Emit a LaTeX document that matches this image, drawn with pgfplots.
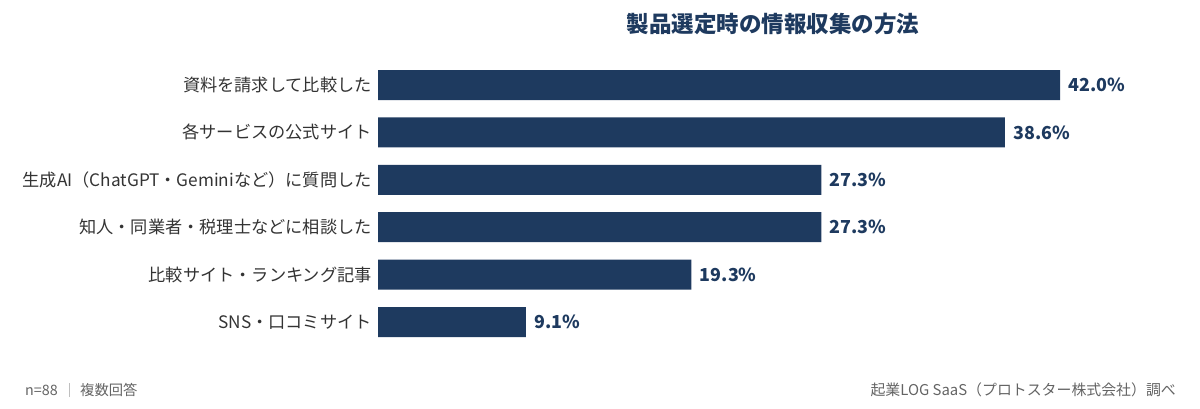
\documentclass[border=0pt]{standalone}
\usepackage{pgfplots}
\pgfplotsset{compat=1.18}
\usepackage{fontspec}
\setmainfont{Noto Sans CJK JP}
\definecolor{navy}{RGB}{30,58,95}
\definecolor{lab}{RGB}{51,51,51}
\definecolor{foot}{RGB}{100,100,100}
\begin{document}
\begin{tikzpicture}
\path[use as bounding box] (0,0) rectangle (1200pt,408pt);
\begin{axis}[
  at={(378pt,62.3pt)}, anchor=south west,
  scale only axis, width=682pt, height=284.4pt,
  xbar, bar width=30pt, bar shift=0pt,
  xmin=0, xmax=42,
  ymin=-0.5, ymax=5.5, y dir=reverse,
  axis x line=none,
  axis y line*=left,
  y axis line style={draw=none},
  ytick={0,1,2,3,4,5},
  yticklabels={資料を請求して比較した,各サービスの公式サイト,生成AI（ChatGPT・Geminiなど）に質問した,知人・同業者・税理士などに相談した,比較サイト・ランキング記事,SNS・口コミサイト},
  yticklabel style={font=\fontsize{17.2pt}{19pt}\selectfont, text=lab, anchor=east, inner sep=0pt, xshift=-6pt},
  major tick length=0pt,
  ytick style={draw=none},
  clip=false,
  nodes near coords={\pgfmathprintnumber[fixed,fixed zerofill,precision=1]{\pgfplotspointmeta}\%},
  nodes near coords style={font=\bfseries\fontsize{17.9pt}{19pt}\selectfont, text=navy, anchor=west, xshift=5pt},
  /pgf/number format/assume math mode=true,
  point meta=x,
]
\addplot[fill=navy, draw=none] coordinates {(42.0,0) (38.6,1) (27.3,2) (27.3,3) (19.3,4) (9.1,5)};
\end{axis}
\node[font=\bfseries\fontsize{22.5pt}{25pt}\selectfont, text=navy] at (773pt,384pt) {製品選定時の情報収集の方法};
\node[font=\fontsize{14.3pt}{16pt}\selectfont, text=foot, anchor=west, inner sep=0pt] at (25pt,18pt) {n=88};
\draw[gray!50, line width=0.8pt] (69pt,11pt) -- (69pt,25pt);
\node[font=\fontsize{14.3pt}{16pt}\selectfont, text=foot, anchor=west, inner sep=0pt] at (80pt,18pt) {複数回答};
\node[font=\fontsize{14.9pt}{16pt}\selectfont, text=foot, anchor=east, inner sep=0pt] at (1176pt,18pt) {起業LOG SaaS（プロトスター株式会社）調べ};
\end{tikzpicture}
\end{document}
